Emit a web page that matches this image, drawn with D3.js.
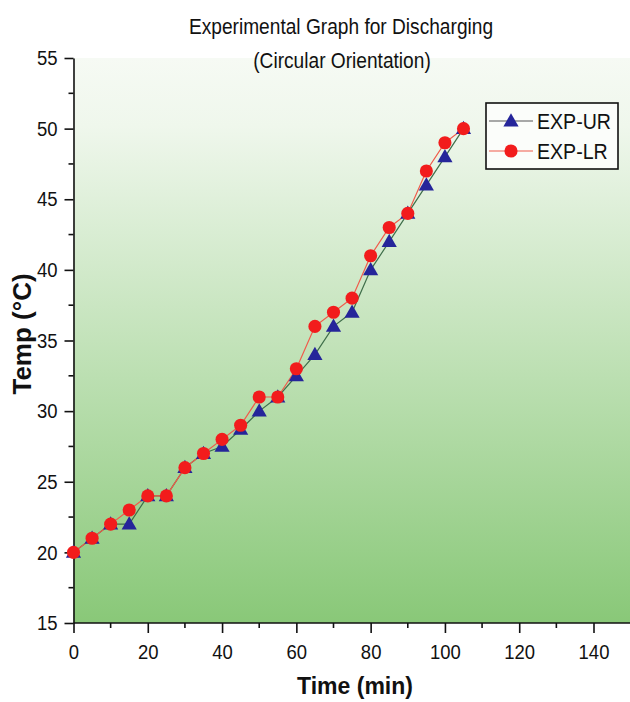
<!DOCTYPE html>
<html>
<head>
<meta charset="utf-8">
<script src="https://cdn.jsdelivr.net/npm/d3@7"></script>
<style>
html,body{margin:0;padding:0;background:#fff;}
svg{display:block;}
text{font-family:"Liberation Sans",Arial,sans-serif;}
</style>
</head>
<body>
<svg id="chart" width="630" height="702"></svg>
<script>
const time = [0,5,10,15,20,25,30,35,40,45,50,55,60,65,70,75,80,85,90,95,100,105];
const expUR = [20,21,22,22,24,24,26,27,27.5,28.7,30,31,32.5,34,36,37,40,42,44,46,48,50];
const expLR = [20,21,22,23,24,24,26,27,28,29,31,31,33,36,37,38,41,43,44,47,49,50];
const seriesNames = ["EXP-UR","EXP-LR"];
const xTicks = [0,20,40,60,80,100,120,140];
const yTicks = [15,20,25,30,35,40,45,50,55];
const titleLines = ["Experimental Graph for Discharging","(Circular Orientation)"];

(function(){
const svg = d3.select("#chart");
const pL = 73.5, pR = 593.5, pT = 58, pB = 623;
const x = d3.scaleLinear().domain([0,140]).range([pL,pR]);
const y = d3.scaleLinear().domain([15,55]).range([pB,pT]);
const SX = 0.88;

const defs = svg.append("defs");
const grad = defs.append("linearGradient").attr("id","bg").attr("x1",0).attr("y1",0).attr("x2",0).attr("y2",1);
grad.append("stop").attr("offset","0%").attr("stop-color","#f6faf4");
grad.append("stop").attr("offset","12%").attr("stop-color","#eff7ec");
grad.append("stop").attr("offset","100%").attr("stop-color","#89c878");
svg.append("rect").attr("x",pL).attr("y",pT).attr("width",630-pL).attr("height",pB-pT).attr("fill","url(#bg)");

// x axis
const xAxis = d3.axisBottom(x).tickValues(xTicks).tickSize(10).tickSizeOuter(0).tickPadding(11);
const gx = svg.append("g").attr("transform",`translate(0,${pB})`).call(xAxis);
gx.select(".domain").remove();
gx.selectAll(".tick line").attr("stroke","#111").attr("stroke-width",1.6);
gx.selectAll(".tick text").attr("font-size",21).attr("fill","#111").attr("transform",`scale(${SX},1)`);
svg.append("g").selectAll("line").data(d3.range(10,141,20)).join("line")
  .attr("x1",d=>x(d)).attr("x2",d=>x(d)).attr("y1",pB).attr("y2",pB+5)
  .attr("stroke","#111").attr("stroke-width",1.6);
svg.append("line").attr("x1",pL).attr("x2",630).attr("y1",pB).attr("y2",pB).attr("stroke","#111").attr("stroke-width",1.6);

// y axis
const yAxis = d3.axisLeft(y).tickValues(yTicks).tickSize(9).tickSizeOuter(0).tickPadding(7);
const gy = svg.append("g").attr("transform",`translate(${pL},0)`).call(yAxis);
gy.selectAll(".tick line").attr("stroke","#111").attr("stroke-width",1.6);
gy.select(".domain").attr("stroke","#111").attr("stroke-width",1.6);
gy.selectAll(".tick text").attr("font-size",21).attr("fill","#111")
  .attr("x",-16/SX).attr("transform",`scale(${SX},1)`);
svg.append("g").selectAll("line").data(d3.range(17.5,55,5)).join("line")
  .attr("x1",pL).attr("x2",pL-5).attr("y1",d=>y(d)).attr("y2",d=>y(d))
  .attr("stroke","#111").attr("stroke-width",1.6);

// lines
const lineGen = (vals) => d3.line().x((d,i)=>x(time[i])).y(d=>y(d))(vals);
svg.append("path").attr("d",lineGen(expUR)).attr("fill","none").attr("stroke","#3f6e4a").attr("stroke-width",1.2);
svg.append("path").attr("d",lineGen(expLR)).attr("fill","none").attr("stroke","#f05a4a").attr("stroke-width",1.2);

const tri = d3.symbol().type(d3.symbolTriangle).size(100);
const circ = d3.symbol().type(d3.symbolCircle).size(135);
svg.append("g").selectAll("path").data(expUR).join("path")
  .attr("d",tri).attr("transform",(d,i)=>`translate(${x(time[i])},${y(d)+1})`).attr("fill","#25259a");
svg.append("g").selectAll("path").data(expLR).join("path")
  .attr("d",circ).attr("transform",(d,i)=>`translate(${x(time[i])},${y(d)})`).attr("fill","#f21c1c");

// legend
const lg = svg.append("g");
lg.append("rect").attr("x",486).attr("y",103).attr("width",132).attr("height",66).attr("fill","#fbfdfa").attr("stroke","#111").attr("stroke-width",1.6);
const entries = [{name:seriesNames[0],color:"#555",sym:tri,fill:"#25259a",dy:121,off:1},{name:seriesNames[1],color:"#f05a4a",sym:circ,fill:"#f21c1c",dy:151,off:0}];
entries.forEach(e=>{
  lg.append("line").attr("x1",489).attr("x2",533).attr("y1",e.dy).attr("y2",e.dy).attr("stroke",e.color).attr("stroke-width",1.2);
  lg.append("path").attr("d",e.sym).attr("transform",`translate(511,${e.dy+e.off})`).attr("fill",e.fill);
  lg.append("text").attr("x",537/0.89).attr("y",e.dy+8).attr("font-size",22).attr("fill","#111")
    .attr("transform","scale(0.89,1)").text(e.name);
});

// titles
svg.append("text").attr("x",341).attr("y",34).attr("text-anchor","middle").attr("font-size",22).attr("fill","#111")
  .attr("transform","translate(341,0) scale(0.87,1) translate(-341,0)").text(titleLines[0]);
svg.append("text").attr("x",342).attr("y",68).attr("text-anchor","middle").attr("font-size",22).attr("fill","#111")
  .attr("transform","translate(342,0) scale(0.87,1) translate(-342,0)").text(titleLines[1]);

svg.append("text").attr("x",355).attr("y",694).attr("text-anchor","middle").attr("font-size",23).attr("font-weight","bold").attr("fill","#111")
  .text("Time (min)");
svg.append("text").attr("transform","translate(31,334) rotate(-90)").attr("text-anchor","middle").attr("font-size",26).attr("font-weight","bold").attr("fill","#111")
  .text("Temp (°C)");
})();
</script>
</body>
</html>
